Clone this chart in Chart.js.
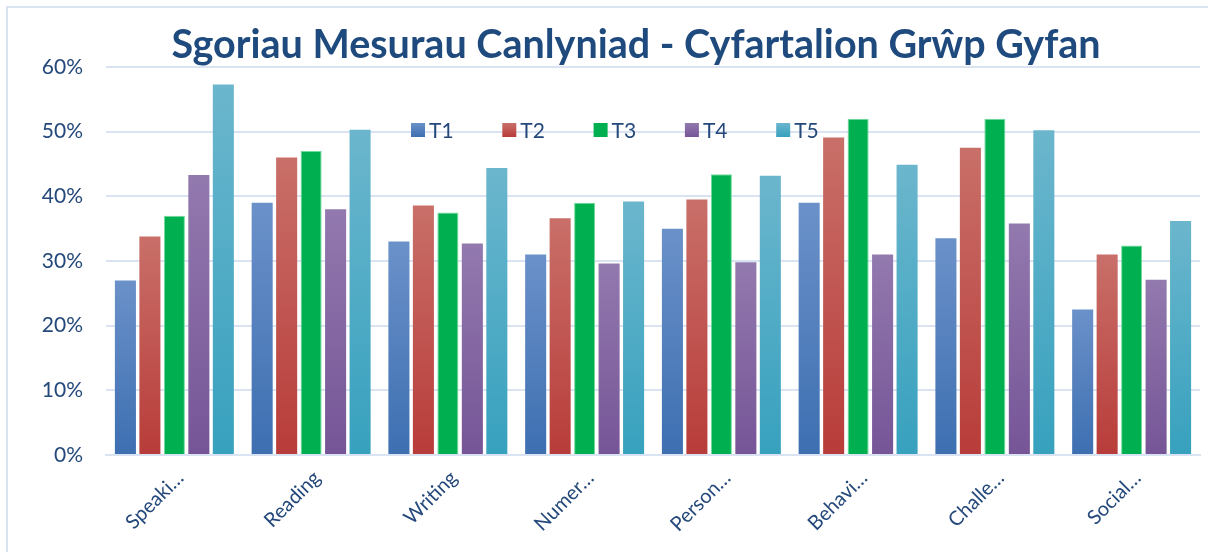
<!DOCTYPE html>
<html>
<head>
<meta charset="utf-8">
<script src="https://cdn.jsdelivr.net/npm/chart.js@4/dist/chart.umd.min.js"></script>
<style>
  body { margin: 0; background: #fff; overflow: hidden; }
  #frame { position: absolute; left: 6px; top: 6px; width: 1220px; height: 570px; border: 2px solid #dae4f1; }
  #wrap { position: absolute; left: 0; top: 0; width: 1208px; height: 552px; }
</style>
</head>
<body>
<div id="frame"></div>
<div id="wrap"><canvas id="canvas1"></canvas></div>
<script>
var categories = ['Speaki…', 'Reading', 'Writing', 'Numer…', 'Person…', 'Behavi…', 'Challe…', 'Social…'];
var seriesNames = ['T1', 'T2', 'T3', 'T4', 'T5'];
var t1 = [0.270, 0.390, 0.330, 0.310, 0.350, 0.390, 0.335, 0.225];
var t2 = [0.338, 0.460, 0.386, 0.366, 0.395, 0.491, 0.475, 0.310];
var t3 = [0.370, 0.470, 0.375, 0.390, 0.434, 0.520, 0.520, 0.324];
var t4 = [0.433, 0.380, 0.327, 0.296, 0.298, 0.310, 0.358, 0.271];
var t5 = [0.573, 0.503, 0.444, 0.392, 0.432, 0.449, 0.502, 0.362];
var yTicks = [0, 0.1, 0.2, 0.3, 0.4, 0.5, 0.6];

var textBlue = '#24487a';
// top / bottom colours of each bar's fill
var fills = [
    ['#6b91c9', '#3d6fb1'],
    ['#c96f69', '#b83c39'],
    ['#00b050', '#00b050'],
    ['#9279ae', '#765597'],
    ['#6bb6cd', '#37a1be']
];

function barFill(i){
    return function(ctx){
        var chart = ctx.chart;
        if (!chart.chartArea || ctx.parsed === undefined) return fills[i][1];
        var y = chart.scales.y;
        var top = y.getPixelForValue(ctx.parsed.y);
        var bottom = y.getPixelForValue(0);
        if (!(bottom > top)) return fills[i][1];
        var g = chart.ctx.createLinearGradient(0, top, 0, bottom);
        g.addColorStop(0, fills[i][0]);
        g.addColorStop(1, fills[i][1]);
        return g;
    };
}

var values = [t1, t2, t3, t4, t5];
var datasets = [];
for (var i = 0; i < seriesNames.length; i++){
    datasets.push({
        label: seriesNames[i],
        data: values[i],
        backgroundColor: barFill(i),
        borderColor: i == 2 ? '#6fdc9c' : 'rgba(0,0,0,0)',
        borderWidth: i == 2 ? 1 : 0,
        barPercentage: 0.86,
        categoryPercentage: 0.895
    });
}

// legend drawn inside the plot, under the title
var innerLegend = {
    id: 'innerLegend',
    afterDraw: function(chart){
        var c = chart.ctx;
        var area = chart.chartArea;
        var x0 = area.left + 305;
        var yc = area.top + 63;
        c.save();
        c.font = '21px Lato';
        c.textBaseline = 'middle';
        for (var i = 0; i < seriesNames.length; i++){
            var x = x0 + i * 91.3;
            var g = c.createLinearGradient(0, yc - 7, 0, yc + 7);
            g.addColorStop(0, fills[i][0]);
            g.addColorStop(1, fills[i][1]);
            c.fillStyle = g;
            c.fillRect(x, yc - 7, 14, 14);
            c.fillStyle = textBlue;
            c.fillText(seriesNames[i], x + 18, yc + 1);
        }
        c.restore();
    }
};

// nudge the title box right so it sits over the plot rather than the whole canvas
var titleShift = {
    id: 'titleShift',
    afterLayout: function(chart){
        if (chart.titleBlock){
            chart.titleBlock.left += 32;
            chart.titleBlock.right += 32;
        }
    }
};

var ctx = document.getElementById('canvas1');
var barGraph = new Chart(ctx, {
    type: 'bar',
    data: { labels: categories, datasets: datasets },
    plugins: [innerLegend, titleShift],
    options: {
        responsive: true,
        maintainAspectRatio: false,
        animation: false,
        layout: { padding: { left: 8, right: 8, top: 0, bottom: 0 } },
        plugins: {
            legend: { display: false },
            tooltip: { enabled: false },
            title: {
                display: true,
                text: 'Sgoriau Mesurau Canlyniad - Cyfartalion Grŵp Gyfan',
                color: '#1f4a7e',
                font: { family: 'Lato', size: 39.5, weight: 'bold', lineHeight: 1.0 },
                padding: { top: 26, bottom: 1.5 }
            }
        },
        scales: {
            x: {
                grid: { display: false, drawTicks: false },
                border: { color: '#d9e3f1', width: 2 },
                ticks: {
                    color: textBlue,
                    font: { family: 'Lato', size: 20 },
                    maxRotation: 45,
                    minRotation: 45,
                    padding: 11,
                    labelOffset: 6
                },
                afterFit: function(s){ s.height = 97; }
            },
            y: {
                min: 0,
                max: 0.6,
                afterBuildTicks: function(s){ s.ticks = yTicks.map(function(v){ return { value: v }; }); },
                grid: { color: '#d9e3f1', lineWidth: 2, drawTicks: false },
                border: { display: false },
                ticks: {
                    color: textBlue,
                    font: { family: 'Lato', size: 21 },
                    padding: 23,
                    callback: function(v){ return Math.round(v * 100) + '%'; }
                },
                afterFit: function(s){ s.width = 98; }
            }
        }
    }
});
</script>
</body>
</html>
